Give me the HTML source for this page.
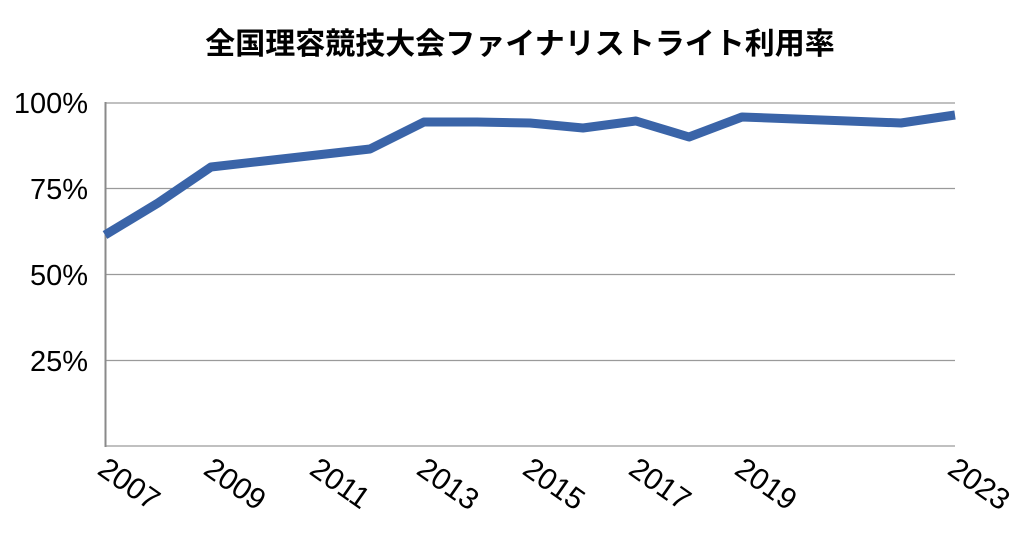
<!DOCTYPE html>
<html><head><meta charset="utf-8"><style>body{margin:0;background:#fff}</style></head><body>
<svg width="1021" height="531" xmlns="http://www.w3.org/2000/svg" font-family="Liberation Sans, Noto Sans CJK JP, sans-serif">
<text x="520" y="54" text-anchor="middle" font-size="30" font-weight="bold" font-family="Liberation Sans, Noto Sans CJK JP, sans-serif">全国理容競技大会ファイナリストライト利用率</text>
<g stroke="#9a9a9a" stroke-width="1.2">
<line x1="105" y1="103" x2="955" y2="103"/>
<line x1="105" y1="188.5" x2="955" y2="188.5"/>
<line x1="105" y1="274.5" x2="955" y2="274.5"/>
<line x1="105" y1="360.5" x2="955" y2="360.5"/>
<line x1="105" y1="446" x2="955" y2="446"/>
</g>
<line x1="105.5" y1="102" x2="105.5" y2="447" stroke="#8a8a8a" stroke-width="2"/>
<g font-size="29" text-anchor="end" fill="#000">
<text x="88" y="113">100%</text>
<text x="88" y="199">75%</text>
<text x="88" y="285">50%</text>
<text x="88" y="371">25%</text>
</g>
<polyline fill="none" stroke="#3a64a8" stroke-width="9" stroke-linejoin="round" points="105,235 158,203 211,167 264,161 317,155 370,149 424,122 477,122 530,123 583,128 636,121 689,137 742,117 795,119 848,121 901,123 955,115"/>
<g font-size="30" fill="#000">
<text transform="translate(96,473) rotate(35)">2007</text>
<text transform="translate(202,473) rotate(35)">2009</text>
<text transform="translate(308,473) rotate(35)">2011</text>
<text transform="translate(415,473) rotate(35)">2013</text>
<text transform="translate(521,473) rotate(35)">2015</text>
<text transform="translate(627,473) rotate(35)">2017</text>
<text transform="translate(733,473) rotate(35)">2019</text>
<text transform="translate(946,473) rotate(35)">2023</text>
</g>
</svg>
</body></html>
